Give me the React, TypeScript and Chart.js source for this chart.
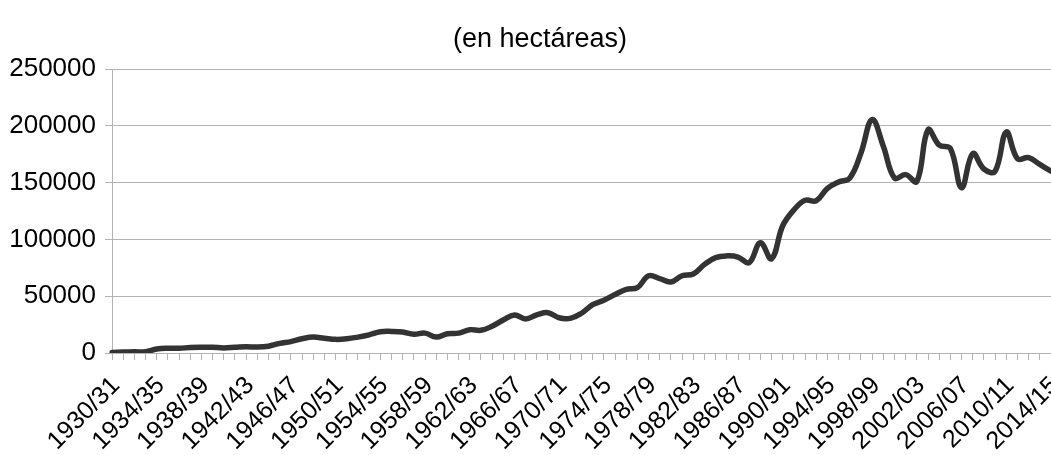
import React, { useEffect, useRef } from "react";
import { Chart, registerables } from "chart.js";

Chart.register(...registerables);

const START_YEAR = 1930;
const YEAR_COUNT = 85;
const categories: string[] = [];
for (let k = 0; k < YEAR_COUNT; k++) {
  const y = START_YEAR + k;
  categories.push(`${y}/${String((y + 1) % 100).padStart(2, "0")}`);
}

const hectareas: number[] = [
  500, 800, 1000, 1200, 3500, 4200, 4200, 4800, 5000, 5000,
  4500, 5000, 5500, 5200, 6000, 8500, 10000, 12500, 14000, 13000,
  12000, 12500, 14000, 16000, 18700, 19000, 18500, 16500, 17500, 14000,
  17000, 17500, 20500, 20000, 23500, 29000, 33500, 30000, 33500, 35500,
  31000, 30500, 35000, 42500, 46500, 51500, 56000, 57500, 68000, 65500,
  62500, 68000, 69500, 78000, 84000, 85500, 84500, 79500, 97000, 83000,
  112000, 126000, 134500, 134000, 145000, 150500, 154000, 176000, 205500, 182000,
  154000, 157000, 151000, 196500, 183000, 180000, 145500, 175500, 162000, 160000,
  194500, 171000, 172000, 166000, 160000,
];

const yTicks: number[] = [0, 50000, 100000, 150000, 200000, 250000];
const titleText = "(en hectáreas)";
const FONT = "'Liberation Sans', Arial, sans-serif";

const titlePlugin = {
  id: "offsetTitle",
  afterDraw(chart: any) {
    const ctx = chart.ctx;
    ctx.save();
    ctx.fillStyle = "#000000";
    ctx.font = `27px ${FONT}`;
    ctx.textAlign = "center";
    ctx.textBaseline = "middle";
    ctx.fillText(titleText, 540, 40);
    ctx.restore();
  },
};

export default function App() {
  const ref = useRef<HTMLCanvasElement | null>(null);
  useEffect(() => {
    document.body.style.margin = "0";
    if (!ref.current) return;
    const chart = new Chart(ref.current, {
      type: "line",
      data: {
        labels: categories,
        datasets: [
          {
            data: hectareas,
            borderColor: "#333333",
            borderWidth: 5.5,
            pointRadius: 0,
            tension: 0.4,
            fill: false,
            borderCapStyle: "round",
            borderJoinStyle: "round",
          },
        ],
      },
      plugins: [titlePlugin],
      options: {
        animation: false,
        responsive: false,
        maintainAspectRatio: false,
        layout: { padding: { left: 0, right: 0, top: 69, bottom: 0 } },
        plugins: {
          legend: { display: false },
          tooltip: { enabled: false },
          title: { display: false },
        },
        scales: {
          x: {
            type: "category",
            offset: false,
            grid: {
              display: true,
              drawOnChartArea: false,
              drawTicks: true,
              tickLength: 7,
              color: "#b3b3b3",
              lineWidth: 1,
            },
            border: { display: true, color: "#b3b3b3" },
            ticks: {
              autoSkip: false,
              maxRotation: 45,
              minRotation: 45,
              color: "#000000",
              font: { family: FONT, size: 25 },
              padding: 11,
              labelOffset: 4,
              callback: (_v: any, i: number) => (i % 4 === 0 ? categories[i] : ""),
            },
            afterFit: (s: any) => {
              s.height = 102;
              s.paddingRight = 0;
            },
          },
          y: {
            min: 0,
            max: 250000,
            afterBuildTicks: (s: any) => {
              s.ticks = yTicks.map((v) => ({ value: v }));
            },
            grid: {
              color: "#b3b3b3",
              lineWidth: 1,
              tickLength: 7,
              drawTicks: true,
            },
            border: { display: true, color: "#b3b3b3" },
            ticks: {
              color: "#000000",
              font: { family: FONT, size: 26 },
              padding: 9,
              callback: (v: any) => String(v),
            },
            afterFit: (s: any) => {
              s.width = 112;
            },
          },
        },
      },
    });
    return () => chart.destroy();
  }, []);
  return (
    <div style={{ width: 1051, height: 455 }}>
      <canvas ref={ref} width={1051} height={455} style={{ display: "block" }} />
    </div>
  );
}
